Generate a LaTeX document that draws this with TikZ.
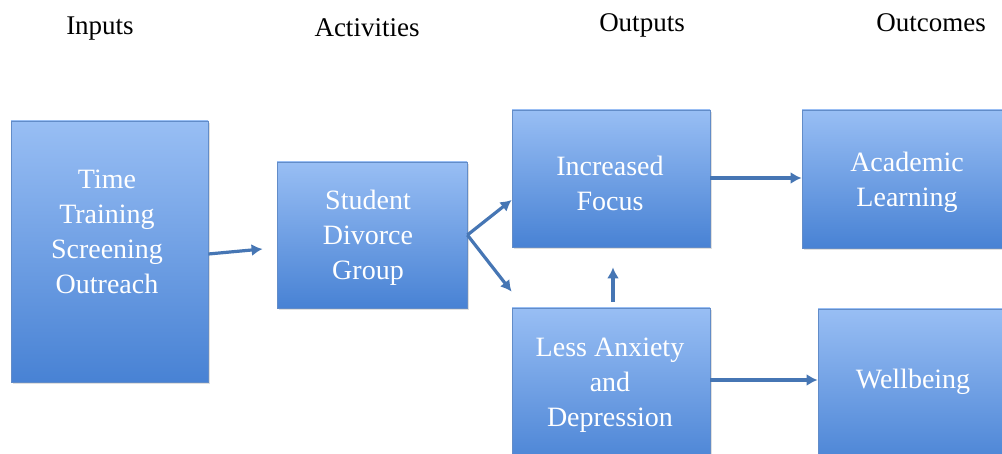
\documentclass[tikz,border=0pt]{standalone}
\usepackage{fontspec}
\setmainfont{Liberation Serif}
\newfontfamily\diagserif{Liberation Serif}
\usetikzlibrary{arrows.meta,calc,shadows}
\definecolor{boxtop}{RGB}{152,190,244}
\definecolor{boxbot}{RGB}{72,130,212}
\definecolor{boxedge}{RGB}{98,140,200}
\definecolor{arrowc}{RGB}{70,118,180}
\tikzset{
  box/.style={draw=boxedge, line width=0.8pt, top color=boxtop, bottom color=boxbot,
    drop shadow={shadow xshift=2pt, shadow yshift=-2pt, opacity=0.25}, inner sep=0pt},
  txt/.style={text=white, align=center, font=\diagserif\fontsize{28}{35}\selectfont},
  head/.style={text=black, font=\diagserif\fontsize{27}{30}\selectfont, anchor=base},
  conn/.style={draw=arrowc, line width=3.2pt, -{Latex[length=11pt,width=12pt]}}
}
\begin{document}
\begin{tikzpicture}[x=1pt,y=-1pt]
\useasboundingbox (0,0) rectangle (1002,454);
\clip (0,0) rectangle (1002,454);
\fill[white] (0,0) rectangle (1002,454);
% headers
\node[head] (h1) at (100,35) {Inputs};
\node[head] (h2) at (367,37) {Activities};
\node[head] (h3) at (642,32) {Outputs};
\node[head] (h4) at (931,32) {Outcomes};
% boxes
\node[box, minimum width=197pt, minimum height=261pt] (in) at (109.5,251.5) {};
\node[box, minimum width=190pt, minimum height=146pt] (act) at (372,235) {};
\node[box, minimum width=198pt, minimum height=137pt] (foc) at (611,178.5) {};
\node[box, minimum width=198pt, minimum height=162pt] (anx) at (611,389) {};
\node[box, minimum width=218pt, minimum height=138pt] (aca) at (911,179) {};
\node[box, minimum width=212pt, minimum height=161pt] (wel) at (924,389.5) {};
% texts
\node[txt] (t1) at (107,232) {Time\\Training\\Screening\\Outreach};
\node[txt] (t2) at (368,238) {Student\\Divorce\\Group};
\node[txt] (t3) at (610,183) {Increased\\Focus};
\node[txt] (t4) at (610,385) {Less Anxiety\\and\\Depression};
\node[txt] (t5) at (907,182) {Academic\\Learning};
\node[txt] (t6) at (913,382) {Wellbeing};
% connectors
\draw[conn] ($(in.east)+(0,2.5)$) -- ($(act.west)+(-14,14)$);
\draw[conn] (act.east) -- ($(foc.west)+(0,21.5)$);
\draw[conn] (act.east) -- ($(anx.north west)+(0,-16)$);
\draw[conn] ($(anx.north)+(2,-6)$) -- ($(foc.south)+(2,20)$);
\draw[conn] ($(foc.east)+(0,-0.5)$) -- ($(aca.west)+(0,-1)$);
\draw[conn] ($(anx.east)+(0,-9)$) -- ($(wel.west)+(0,-9.5)$);
\end{tikzpicture}
\end{document}
